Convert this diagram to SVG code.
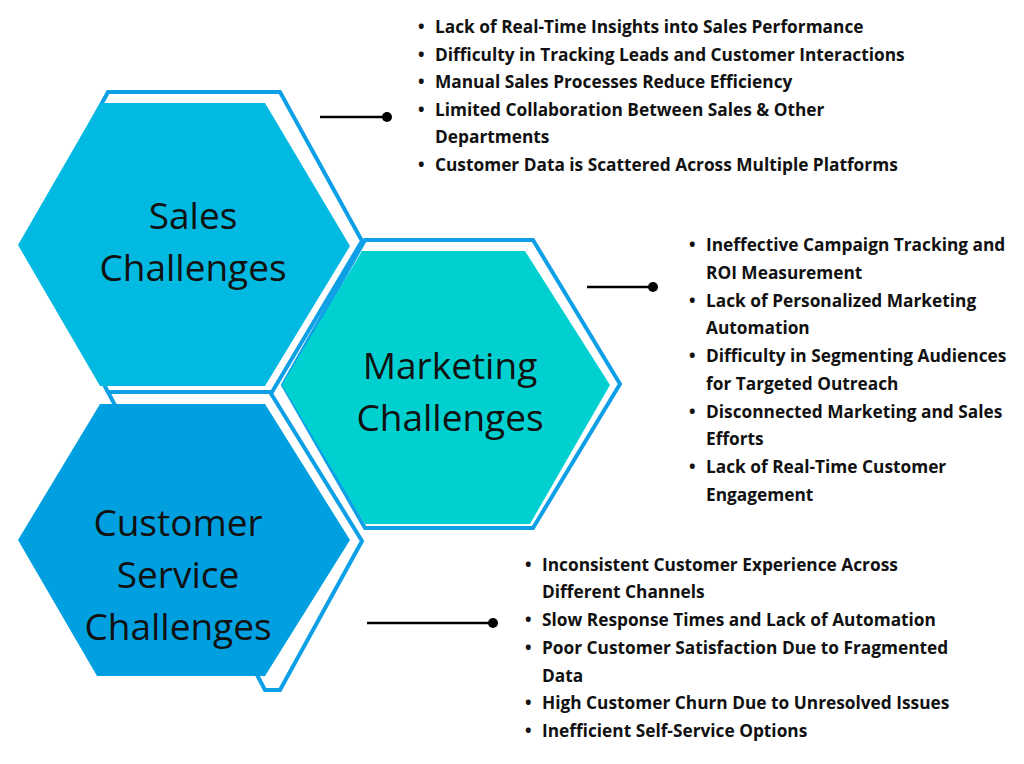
<svg xmlns="http://www.w3.org/2000/svg" width="1024" height="764" viewBox="0 0 1024 764">
<style>
.ol{fill:none;stroke:#0ea0e6;stroke-width:4;stroke-linejoin:miter}
.hl{font-family:"Open Sans",sans-serif;font-size:37px;fill:#111;text-anchor:middle;dominant-baseline:central}
.li{font-family:"Open Sans",sans-serif;font-size:17.3px;font-weight:bold;fill:#111}
.cn{stroke:#000;stroke-width:2.5}
</style>
<rect width="1024" height="764" fill="#fff"/>
<g id="sales">
<polygon class="ol" points="108,92 280,92 362,241 272,392 108,392 26,243"/>
<polygon points="100,103 265,103 350,246 265,386 100,386 18,245" fill="#01b9e1"/>
<text class="hl" x="193" y="214">Sales</text>
<text class="hl" x="193" y="266">Challenges</text>
</g>
<g id="marketing">
<polygon class="ol" points="365,240 533,240 620,384 533,528 365,528 283,385"/>
<polygon points="362,251 525,251 610,385 530,524 365,524 282,385" fill="#00d0d0"/>
<text class="hl" x="450" y="364">Marketing</text>
<text class="hl" x="450" y="416">Challenges</text>
</g>
<g id="customer">
<polygon class="ol" points="108,392 270,392 362,541 280,690 265,690"/>
<polygon points="100,404 265,404 350,540 265,676 97,676 18,540" fill="#00a0e0"/>
<text class="hl" x="178" y="521">Customer</text>
<text class="hl" x="178" y="573">Service</text>
<text class="hl" x="178" y="625">Challenges</text>
</g>
<g id="connectors">
<line class="cn" x1="320" y1="117" x2="387" y2="117"/><circle cx="387" cy="117" r="5"/>
<line class="cn" x1="587" y1="287" x2="653" y2="287"/><circle cx="653" cy="287" r="5"/>
<line class="cn" x1="367" y1="623" x2="493" y2="623"/><circle cx="493" cy="623" r="5"/>
</g>
<g id="sales-list" class="li">
<text x="418" y="33">•</text><text x="435" y="33">Lack of Real-Time Insights into Sales Performance</text>
<text x="418" y="61">•</text><text x="435" y="61">Difficulty in Tracking Leads and Customer Interactions</text>
<text x="418" y="88">•</text><text x="435" y="88">Manual Sales Processes Reduce Efficiency</text>
<text x="418" y="116">•</text><text x="435" y="116">Limited Collaboration Between Sales &amp; Other</text>
<text x="435" y="143">Departments</text>
<text x="418" y="171">•</text><text x="435" y="171">Customer Data is Scattered Across Multiple Platforms</text>
</g>
<g id="marketing-list" class="li">
<text x="689" y="251">•</text><text x="706" y="251">Ineffective Campaign Tracking and</text>
<text x="706" y="279">ROI Measurement</text>
<text x="689" y="307">•</text><text x="706" y="307">Lack of Personalized Marketing</text>
<text x="706" y="334">Automation</text>
<text x="689" y="362">•</text><text x="706" y="362">Difficulty in Segmenting Audiences</text>
<text x="706" y="390">for Targeted Outreach</text>
<text x="689" y="418">•</text><text x="706" y="418">Disconnected Marketing and Sales</text>
<text x="706" y="445">Efforts</text>
<text x="689" y="473">•</text><text x="706" y="473">Lack of Real-Time Customer</text>
<text x="706" y="501">Engagement</text>
</g>
<g id="customer-list" class="li">
<text x="525" y="571">•</text><text x="542" y="571">Inconsistent Customer Experience Across</text>
<text x="542" y="598">Different Channels</text>
<text x="525" y="626">•</text><text x="542" y="626">Slow Response Times and Lack of Automation</text>
<text x="525" y="654">•</text><text x="542" y="654">Poor Customer Satisfaction Due to Fragmented</text>
<text x="542" y="682">Data</text>
<text x="525" y="709">•</text><text x="542" y="709">High Customer Churn Due to Unresolved Issues</text>
<text x="525" y="737">•</text><text x="542" y="737">Inefficient Self-Service Options</text>
</g>
</svg>
